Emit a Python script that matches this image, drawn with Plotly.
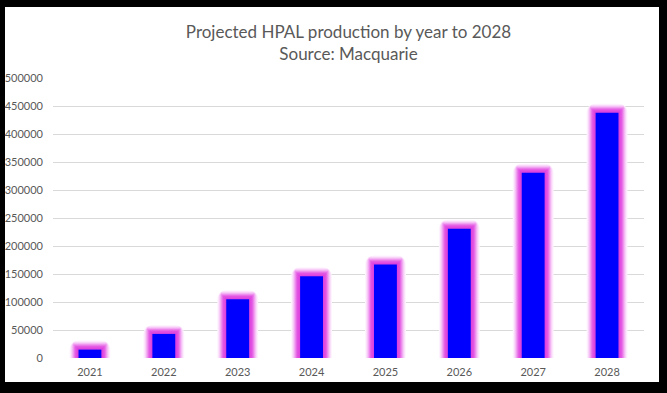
import plotly.graph_objects as go

years = [2021, 2022, 2023, 2024, 2025, 2026, 2027, 2028]
production = [15000, 43000, 105000, 146000, 167000, 231000, 331000, 438000]
year_labels = [str(y) for y in years]
y_ticks = list(range(0, 500001, 50000))

W, H = 667, 393
ml, mr, mt, mb = 53, 23, 78, 35
plot_w = W - ml - mr
plot_h = H - mt - mb
x_range = [2020.5, 2028.5]
y_range = [0, 500000]
px_x = (x_range[1] - x_range[0]) / plot_w   # data units per pixel
px_y = (y_range[1] - y_range[0]) / plot_h

bar_w = 0.31
fig = go.Figure()

# glow layers (outer -> inner)
glow = [(9, "#FEF4FE"), (8, "#FBE0FB"), (7, "#F7C8F7"), (6, "#F2A8F2"),
        (5, "#EC86EC"), (4, "#E666E6"), (3, "#E150E1"), (1.5, "#DD44DD")]
for pad, col in glow:
    fig.add_trace(go.Bar(
        x=years, y=[v + pad * px_y for v in production],
        width=bar_w + 2 * pad * px_x,
        marker=dict(color=col, line=dict(width=0), cornerradius=pad),
        hoverinfo="skip", showlegend=False))

fig.add_trace(go.Bar(
    x=years, y=production, width=bar_w,
    marker=dict(color="#0000FF", line=dict(width=0)),
    showlegend=False, name="Production"))

fig.update_layout(
    width=W, height=H,
    margin=dict(l=ml, r=mr, t=mt, b=mb, autoexpand=False),
    paper_bgcolor="black", plot_bgcolor="white",
    barmode="overlay",
    font=dict(family="Lato", color="#595959", size=11),
    title=dict(text="Projected HPAL production by year to 2028<br>Source: Macquarie",
               x=0.5, xref="paper", xanchor="center",
               y=1 - 37.5 / H, yref="container", yanchor="middle",
               font=dict(family="Lato", size=17, color="#595959")),
    xaxis=dict(range=x_range, tickvals=years, ticktext=year_labels,
               showgrid=False, zeroline=False, showline=False, ticks="",
               automargin=False, ticklabelstandoff=6,
               tickfont=dict(size=11, color="#595959")),
    yaxis=dict(range=y_range, tickvals=y_ticks, ticktext=[str(t) for t in y_ticks],
               showgrid=True, gridcolor="#D9D9D9", gridwidth=1, zeroline=False,
               showline=False, ticks="", ticklabelstandoff=9, automargin=False,
               tickfont=dict(size=11, color="#595959")),
    shapes=[dict(type="rect", xref="paper", yref="paper", layer="below",
                 x0=(5 - ml) / plot_w, x1=(659 - ml) / plot_w,
                 y0=(H - mb - 382) / plot_h, y1=(H - mb - 7) / plot_h,
                 fillcolor="white", line=dict(width=0))],
)

fig.write_html("out.html", config={"displayModeBar": False},
               post_script="document.body.style.margin='0';document.body.style.overflow='hidden';")
